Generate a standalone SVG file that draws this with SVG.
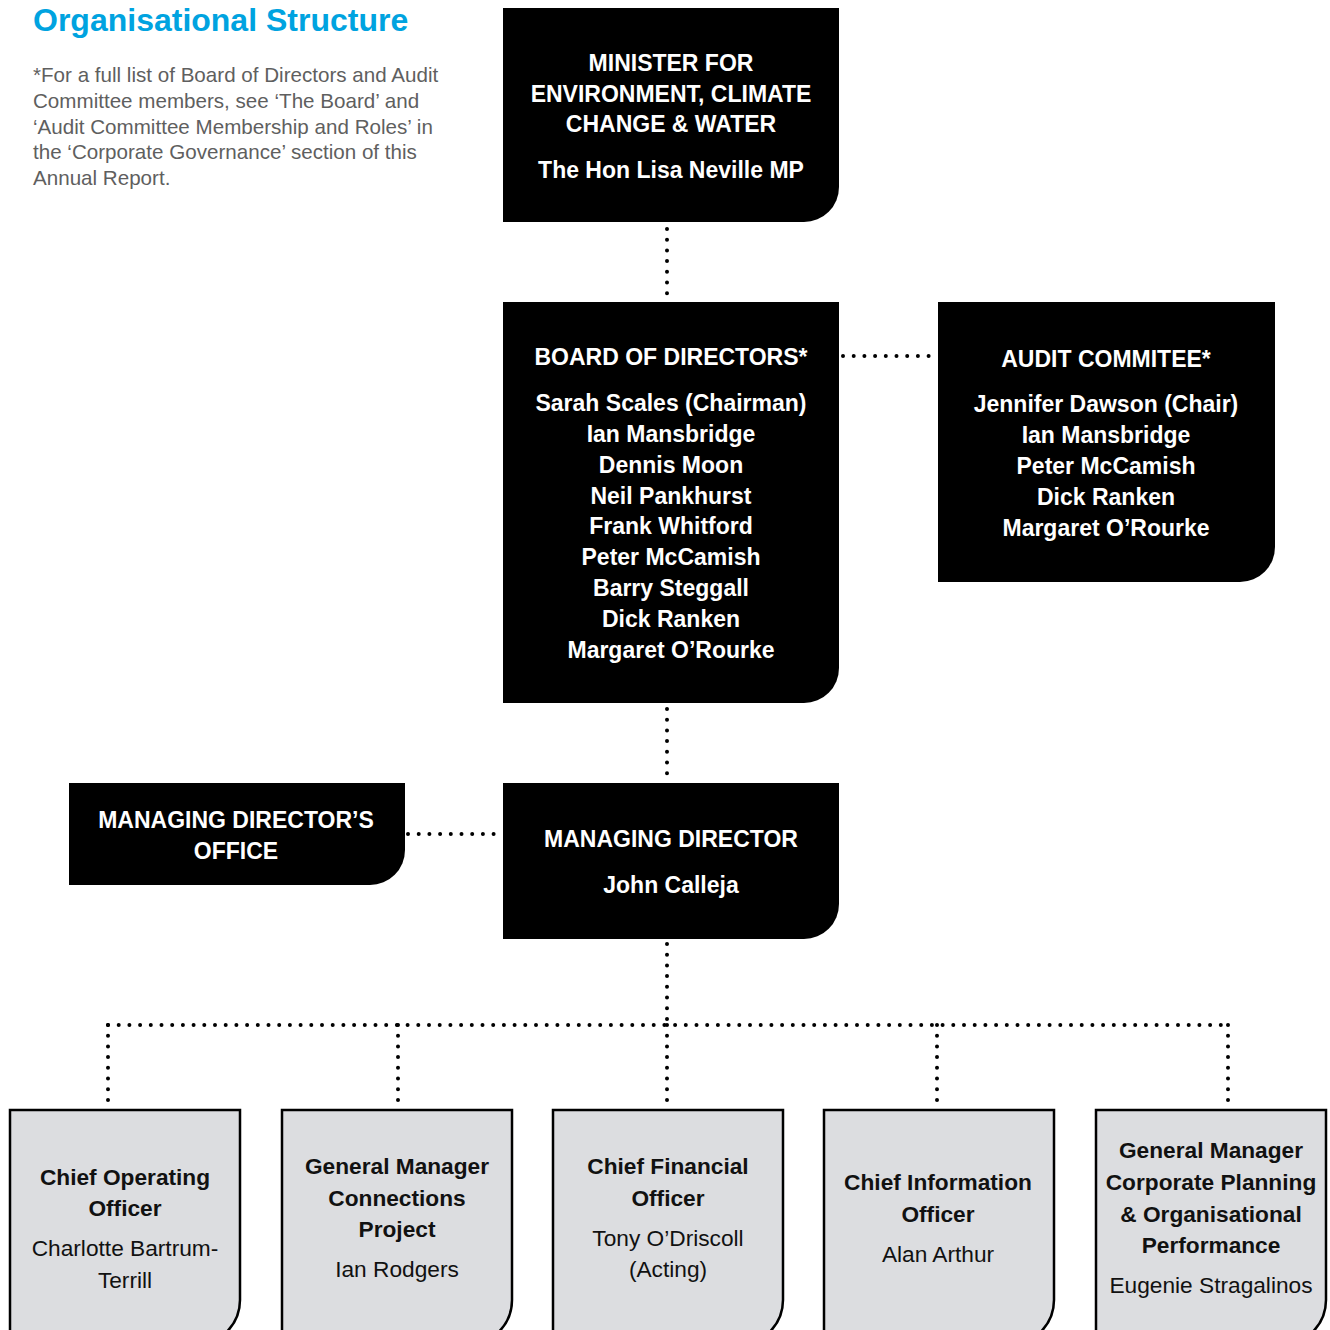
<svg xmlns="http://www.w3.org/2000/svg" width="1330" height="1330" viewBox="0 0 1330 1330">
<style>
.blk{fill:#000}
.gry{fill:#dcdde0;stroke:#000;stroke-width:2.5}
.wt{font-family:"Liberation Sans",Arial,sans-serif;font-weight:bold;font-size:23px;fill:#fff;text-anchor:middle}
.bt{font-family:"Liberation Sans",Arial,sans-serif;font-weight:bold;font-size:22.7px;fill:#111;text-anchor:middle}
.rt{font-family:"Liberation Sans",Arial,sans-serif;font-size:22.7px;fill:#111;text-anchor:middle}
.dot{fill:none;stroke:#000;stroke-width:4;stroke-linecap:round;stroke-dasharray:0 10.7}
.title{font-family:"Liberation Sans",Arial,sans-serif;font-weight:bold;font-size:32px;fill:#00a3e0}
.note{font-family:"Liberation Sans",Arial,sans-serif;font-size:20.6px;fill:#5f5f5f}
</style>
<text class="title" x="33" y="31">Organisational Structure</text>
<g class="note">
<text x="33" y="82">*For a full list of Board of Directors and Audit</text>
<text x="33" y="108">Committee members, see ‘The Board’ and</text>
<text x="33" y="134">‘Audit Committee Membership and Roles’ in</text>
<text x="33" y="159">the ‘Corporate Governance’ section of this</text>
<text x="33" y="185">Annual Report.</text>
</g>
<g id="connectors">
<path class="dot" d="M667 229 V296"/>
<path class="dot" d="M843 356 H936"/>
<path class="dot" d="M667 709 V778"/>
<path class="dot" d="M408 834 H500"/>
<path class="dot" d="M667 944 V1025"/>
<path class="dot" d="M108 1025 H1228"/>
<path class="dot" d="M108 1025 V1107"/>
<path class="dot" d="M398 1025 V1107"/>
<path class="dot" d="M667 1025 V1107"/>
<path class="dot" d="M937 1025 V1107"/>
<path class="dot" d="M1228 1025 V1107"/>
</g>
<g id="minister">
<path class="blk" d="M503 8 H839 V187 A35 35 0 0 1 804 222 H503 Z"/>
<text class="wt" x="671" y="71">MINISTER FOR</text>
<text class="wt" x="671" y="102">ENVIRONMENT, CLIMATE</text>
<text class="wt" x="671" y="132">CHANGE &amp; WATER</text>
<text class="wt" x="671" y="178">The Hon Lisa Neville MP</text>
</g>
<g id="board">
<path class="blk" d="M503 302 H839 V668 A35 35 0 0 1 804 703 H503 Z"/>
<text class="wt" x="671" y="365">BOARD OF DIRECTORS*</text>
<text class="wt" x="671" y="411">Sarah Scales (Chairman)</text>
<text class="wt" x="671" y="442">Ian Mansbridge</text>
<text class="wt" x="671" y="473">Dennis Moon</text>
<text class="wt" x="671" y="504">Neil Pankhurst</text>
<text class="wt" x="671" y="534">Frank Whitford</text>
<text class="wt" x="671" y="565">Peter McCamish</text>
<text class="wt" x="671" y="596">Barry Steggall</text>
<text class="wt" x="671" y="627">Dick Ranken</text>
<text class="wt" x="671" y="658">Margaret O’Rourke</text>
</g>
<g id="audit">
<path class="blk" d="M938 302 H1275 V547 A35 35 0 0 1 1240 582 H938 Z"/>
<text class="wt" x="1106" y="367">AUDIT COMMITEE*</text>
<text class="wt" x="1106" y="412">Jennifer Dawson (Chair)</text>
<text class="wt" x="1106" y="443">Ian Mansbridge</text>
<text class="wt" x="1106" y="474">Peter McCamish</text>
<text class="wt" x="1106" y="505">Dick Ranken</text>
<text class="wt" x="1106" y="536">Margaret O’Rourke</text>
</g>
<g id="md-office">
<path class="blk" d="M69 783 H405 V850 A35 35 0 0 1 370 885 H69 Z"/>
<text class="wt" x="236" y="828">MANAGING DIRECTOR’S</text>
<text class="wt" x="236" y="859">OFFICE</text>
</g>
<g id="md">
<path class="blk" d="M503 783 H839 V904 A35 35 0 0 1 804 939 H503 Z"/>
<text class="wt" x="671" y="847">MANAGING DIRECTOR</text>
<text class="wt" x="671" y="893">John Calleja</text>
</g>
<g id="coo">
<path class="gry" d="M10 1110 H240 V1300 A45 45 0 0 1 195 1345 H10 Z"/>
<text class="bt" x="125" y="1185">Chief Operating</text>
<text class="bt" x="125" y="1216">Officer</text>
<text class="rt" x="125" y="1256">Charlotte Bartrum-</text>
<text class="rt" x="125" y="1288">Terrill</text>
</g>
<g id="gm-connections">
<path class="gry" d="M282 1110 H512 V1300 A45 45 0 0 1 467 1345 H282 Z"/>
<text class="bt" x="397" y="1174">General Manager</text>
<text class="bt" x="397" y="1206">Connections</text>
<text class="bt" x="397" y="1237">Project</text>
<text class="rt" x="397" y="1277">Ian Rodgers</text>
</g>
<g id="cfo">
<path class="gry" d="M553 1110 H783 V1300 A45 45 0 0 1 738 1345 H553 Z"/>
<text class="bt" x="668" y="1174">Chief Financial</text>
<text class="bt" x="668" y="1206">Officer</text>
<text class="rt" x="668" y="1246">Tony O’Driscoll</text>
<text class="rt" x="668" y="1277">(Acting)</text>
</g>
<g id="cio">
<path class="gry" d="M824 1110 H1054 V1300 A45 45 0 0 1 1009 1345 H824 Z"/>
<text class="bt" x="938" y="1190">Chief Information</text>
<text class="bt" x="938" y="1222">Officer</text>
<text class="rt" x="938" y="1262">Alan Arthur</text>
</g>
<g id="gm-corporate">
<path class="gry" d="M1096 1110 H1326 V1300 A45 45 0 0 1 1281 1345 H1096 Z"/>
<text class="bt" x="1211" y="1158">General Manager</text>
<text class="bt" x="1211" y="1190">Corporate Planning</text>
<text class="bt" x="1211" y="1222">&amp; Organisational</text>
<text class="bt" x="1211" y="1253">Performance</text>
<text class="rt" x="1211" y="1293">Eugenie Stragalinos</text>
</g>
</svg>
